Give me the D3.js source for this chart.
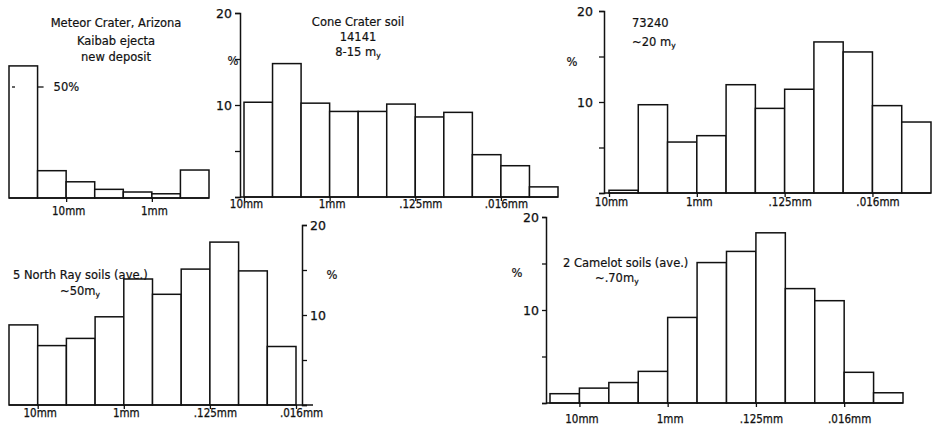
<!DOCTYPE html>
<html>
<head>
<meta charset="utf-8">
<script src="https://cdn.jsdelivr.net/npm/d3@7"></script>
<style>
    body { margin: 0; background: #fff; }
    svg text { font-family: "DejaVu Sans", sans-serif; fill: #111; }
    .title { font-size: 11.5px; stroke: #111; stroke-width: 0.2px; }
    .pct-axis text { font-size: 12.5px; font-family: "DejaVu Sans", sans-serif; stroke: #111; stroke-width: 0.25px; }
    .size-axis text { font-size: 11.5px; font-family: "DejaVu Sans Condensed", "DejaVu Sans", sans-serif; font-stretch: condensed; stroke: #111; stroke-width: 0.25px; }
    .bar { fill: #fff; stroke: #111; stroke-width: 1.5; }
</style>
</head>
<body>
<div id="chart"></div>
<script>
// grain size boundaries that get labels (one every 3 bins)
const sizeLabels = ["10mm", "1mm", ".125mm", ".016mm"];

// weight percent per size bin
const meteorPct   = [59.5, 12.3, 7.3, 3.9, 2.7, 1.9, 12.6];
const conePct     = [10.3, 14.5, 10.2, 9.3, 9.3, 10.1, 8.7, 9.2, 4.6, 3.4, 1.1];
const pct73240    = [0.3, 9.7, 5.6, 6.3, 11.9, 9.3, 11.4, 16.6, 15.5, 9.6, 7.8];
const northRayPct = [8.9, 6.6, 7.4, 9.8, 14.0, 12.3, 15.1, 18.1, 14.9, 6.5];
const camelotPct  = [1.0, 1.6, 2.2, 3.4, 9.2, 15.1, 16.3, 18.3, 12.3, 11.0, 3.3, 1.1];

const pctTicks = [0, 5, 10, 15, 20];
const pctLabels = [10, 20];

const width = 935, height = 432;

const svg = d3.select("#chart").append("svg")
    .attr("width", width)
    .attr("height", height);

// layout of the five little histograms
const panels = [
    {
        values: meteorPct, firstTick: 2, x0: 9, x1: 209, base: 198, yMax: 50, yTop: 87,
        axis: null, labelPad: 5, lineFrom: 9,
        titles: [
            {text: "Meteor Crater, Arizona", x: 116, y: 23, anchor: "middle"},
            {text: "Kaibab ejecta", x: 116, y: 41, anchor: "middle"},
            {text: "new deposit", x: 116, y: 57, anchor: "middle"}
        ]
    },
    {
        values: conePct, firstTick: 0, x0: 244, x1: 558, base: 197, yMax: 20, yTop: 13,
        axis: "left", axisX: 240, labelPad: -1, lineFrom: 240,
        pctMark: {x: 233, y: 61},
        titles: [
            {text: "Cone Crater soil", x: 358, y: 22, anchor: "middle"},
            {text: "14141", x: 358, y: 37, anchor: "middle"},
            {text: "8-15 m", sub: "y", x: 358, y: 52, anchor: "middle"}
        ]
    },
    {
        values: pct73240, firstTick: 0, x0: 609, x1: 931, base: 193, yMax: 20, yTop: 11,
        axis: "left", axisX: 604, labelPad: 1, lineFrom: 604, tickPad: 6,
        pctMark: {x: 572, y: 62},
        titles: [
            {text: "73240", x: 632, y: 23, anchor: "start"},
            {text: "~20 m", sub: "y", x: 632, y: 42, anchor: "start"}
        ]
    },
    {
        values: northRayPct, firstTick: 1, x0: 9, x1: 296, base: 405, yMax: 20, yTop: 225,
        axis: "right", axisX: 302, labelPad: 0, lineFrom: 9, lineTo: 313,
        pctMark: {x: 332, y: 275},
        titles: [
            {text: "5 North Ray soils (ave.)", x: 13, y: 275, anchor: "start"},
            {text: "~50m", sub: "y", x: 60, y: 291, anchor: "start"}
        ]
    },
    {
        values: camelotPct, firstTick: 1, x0: 550, x1: 903, base: 403, yMax: 20, yTop: 217,
        axis: "left", axisX: 546, labelPad: 8, lineFrom: 546, tickSize: 4,
        pctMark: {x: 517, y: 273},
        titles: [
            {text: "2 Camelot soils (ave.)", x: 563, y: 263, anchor: "start"},
            {text: "~.70m", sub: "y", x: 595, y: 278, anchor: "start"}
        ]
    }
];

panels.forEach(p => {
    let g = svg.append("g");
    let n = p.values.length;

    let x = d3.scaleLinear().domain([0, n]).range([p.x0, p.x1]);
    let y = d3.scaleLinear().domain([0, p.yMax]).range([p.base, p.yTop]);

    // bars
    g.selectAll(".bar")
        .data(p.values)
        .enter().append("rect")
        .attr("class", "bar")
        .attr("x", (d, i) => x(i))
        .attr("width", (d, i) => x(i + 1) - x(i))
        .attr("y", d => y(d))
        .attr("height", d => y(0) - y(d));

    // baseline
    g.append("line")
        .attr("x1", p.lineFrom)
        .attr("x2", p.lineTo || p.x1)
        .attr("y1", p.base)
        .attr("y2", p.base)
        .attr("stroke", "#111")
        .attr("stroke-width", 1.5);

    // size ticks
    let tickVals = d3.range(p.firstTick, n + 1, 3).slice(0, sizeLabels.length);
    let sizeAxis = g.append("g")
        .attr("class", "size-axis")
        .attr("transform", `translate(0,${p.base})`)
        .call(d3.axisBottom(x)
            .tickValues(tickVals)
            .tickSize(4)
            .tickPadding(p.labelPad)
            .tickFormat((d, i) => sizeLabels[i]));
    sizeAxis.select(".domain").remove();
    sizeAxis.selectAll("line").attr("stroke", "#111").attr("stroke-width", 1.3);
    sizeAxis.selectAll("text")
        .attr("dx", d => sizeLabels[tickVals.indexOf(d)].startsWith(".") ? 5 : 2);

    // percent axis
    if (p.axis) {
        let ax = p.axis === "left" ? d3.axisLeft(y) : d3.axisRight(y);
        ax.tickValues(pctTicks)
            .tickSize(p.tickSize || 5)
            .tickPadding(p.tickPad || 3)
            .tickFormat(d => pctLabels.includes(d) ? d : "");
        let pa = g.append("g")
            .attr("class", "pct-axis")
            .attr("transform", `translate(${p.axisX},0)`)
            .call(ax);
        pa.select(".domain").attr("stroke", "#111").attr("stroke-width", 1.5);
        pa.selectAll("line").attr("stroke", "#111").attr("stroke-width", 1.3);

        g.append("text")
            .attr("class", "title")
            .attr("x", p.pctMark.x)
            .attr("y", p.pctMark.y)
            .attr("dy", "0.35em")
            .attr("text-anchor", "middle")
            .text("%");
    } else {
        // meteor crater: 50% mark across the tall first bar
        g.append("line")
            .attr("x1", x(1)).attr("x2", x(1) + 6)
            .attr("y1", y(50)).attr("y2", y(50))
            .attr("stroke", "#111").attr("stroke-width", 1.3);
        g.append("line")
            .attr("x1", x(0) + 3).attr("x2", x(0) + 6)
            .attr("y1", y(50)).attr("y2", y(50))
            .attr("stroke", "#111").attr("stroke-width", 1.3);
        g.append("text")
            .attr("class", "title")
            .attr("x", x(1) + 16)
            .attr("y", y(50))
            .attr("dy", "0.35em")
            .text("50%");
    }

    // titles
    p.titles.forEach(t => {
        let txt = g.append("text")
            .attr("class", "title")
            .attr("x", t.x)
            .attr("y", t.y)
            .attr("dy", "0.35em")
            .attr("text-anchor", t.anchor)
            .text(t.text);
        if (t.sub) {
            txt.append("tspan")
                .attr("font-size", "7.5px")
                .attr("dy", "2")
                .text(t.sub);
        }
    });
});
</script>
</body>
</html>
